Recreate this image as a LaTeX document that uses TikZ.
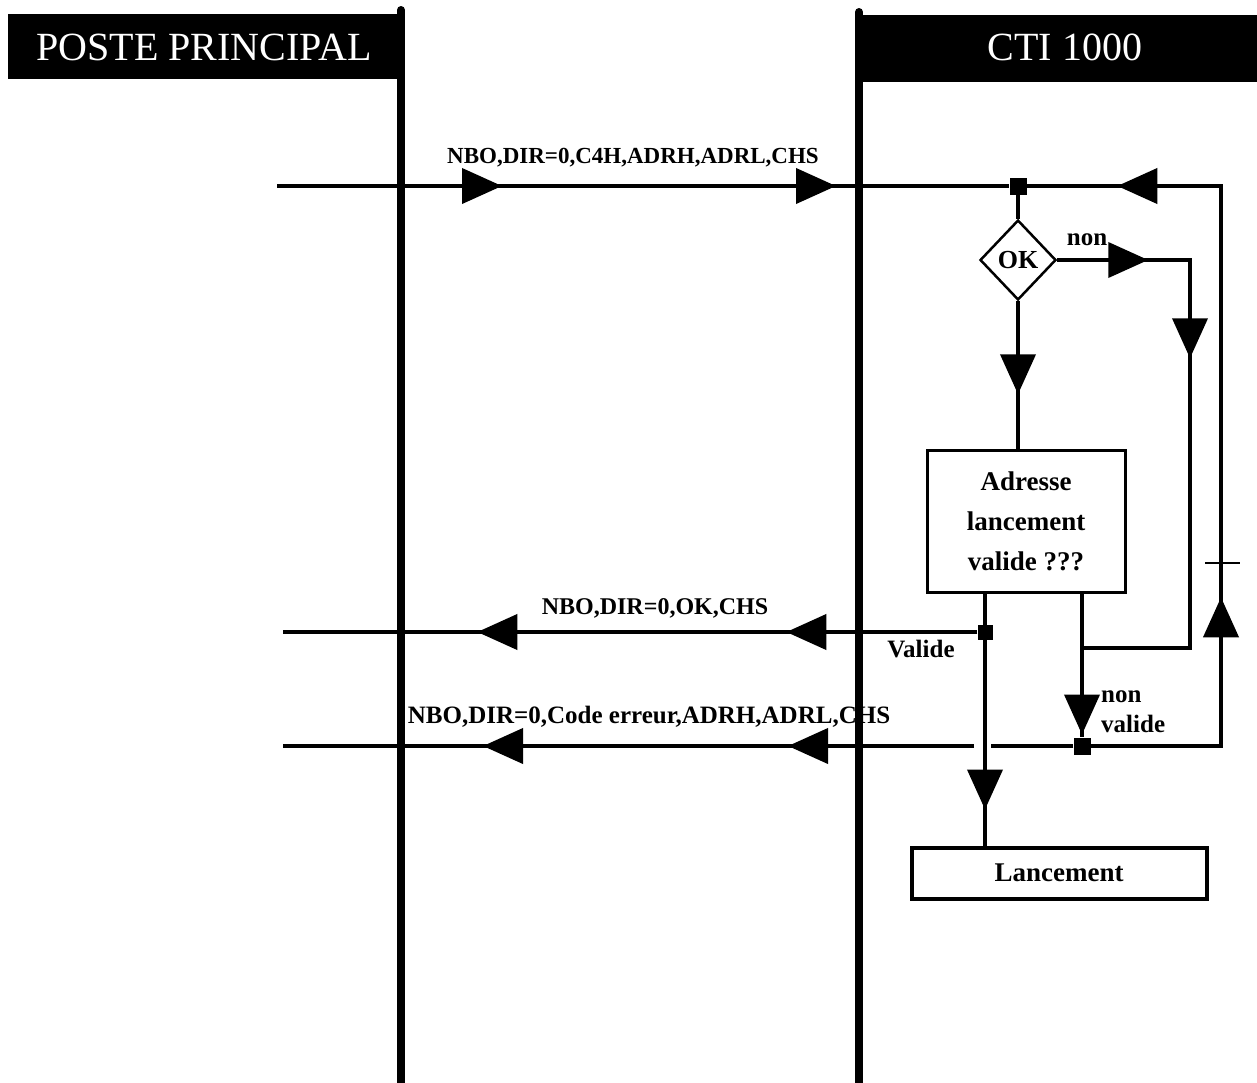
\documentclass[tikz,border=0pt]{standalone}
\usepackage{fontspec}
\setmainfont{Liberation Serif}
\usetikzlibrary{shapes.geometric,arrows.meta,decorations.markings}
\tikzset{
  lifeline/.style={line width=8pt,line cap=round},
  hdrbox/.style={fill=black,draw=none,inner sep=0pt},
  hdrtext/.style={text=white,font=\fontsize{40}{40}\selectfont,inner sep=0pt},
  msg/.style={line width=4pt},
  flow/.style={line width=4pt},
  lbl/.style={font=\fontsize{24}{24}\selectfont\bfseries,inner sep=0pt},
  boxtext/.style={font=\fontsize{27}{40}\selectfont\bfseries},
  junction/.style={fill=black,draw=none,minimum size=17pt,inner sep=0pt},
  tipat/.style={postaction={decorate,decoration={markings,
      mark=at position #1 with {\arrow{Triangle[length=40pt,width=35pt]}}}}},
}
\begin{document}
\begin{tikzpicture}[x=1pt,y=-1pt]
\useasboundingbox (0,0) rectangle (1257,1082);
\fill[white] (0,0) rectangle (1257,1082);

% headers
\node[hdrbox,minimum width=393pt,minimum height=65pt] (h1) at (204.5,46.5) {};
\node[hdrtext] (t1) at (204,47) {POSTE PRINCIPAL};
\node[hdrbox,minimum width=402pt,minimum height=67pt] (h2) at (1056,48) {};
\node[hdrtext] (t2) at (1065,47) {CTI 1000};

% lifelines
\coordinate (a1) at (401,10);
\coordinate (a2) at (401,1086);
\coordinate (b1) at (859,12);
\coordinate (b2) at (859,1086);
\draw[lifeline] (a1) -- (a2);
\draw[lifeline] (b1) -- (b2);

% junctions
\node[junction] (J1) at (1018,186) {};
\node[junction,minimum size=15pt] (J2) at (985,632) {};
\node[junction] (J4) at (1082,746) {};

% decision and boxes
\node[diamond,draw,line width=2.5pt,minimum width=76pt,minimum height=80pt,
      inner sep=0pt,font=\fontsize{26}{26}\selectfont\bfseries] (ok) at (1018,260) {OK};
\node[draw,line width=3pt,minimum width=198pt,minimum height=142pt,
      align=center,boxtext] (box) at (1026,521) {Adresse\\lancement\\valide ???};
\node[draw,line width=4pt,minimum width=295pt,minimum height=51pt,
      font=\fontsize{27}{27}\selectfont\bfseries] (lanc) at (1059,873) {Lancement};

% message 1
\coordinate (m1s) at (277,186);
\draw[msg,tipat=225pt,tipat=559pt] (m1s) -- (J1);

% return loop
\coordinate (c1) at (1221,746);
\coordinate (c2) at (1221,186);
\draw[flow,tipat=279pt,tipat=794pt] (J4) -- (c1) -- (c2) -- (J1);
\draw[line width=2.5pt] (1205,563) -- (1240,563);

% flow
\draw[flow] (J1) -- (ok.north);
\draw[flow,tipat=93pt] (ok.south) -- (ok.south |- box.north);
\coordinate (c3) at (1190,260);
\coordinate (c4) at (1190,648);
\coordinate (c5) at (1082,648);
\draw[flow,tipat=91pt,tipat=231pt] (ok.east) -- (c3) -- (c4) -- (c5);
\draw[flow,tipat=216pt] ([xshift=-41pt]box.south) -- ([xshift=-41pt]box.south |- lanc.north);
\draw[flow,tipat=141pt] ([xshift=56pt]box.south) -- (J4);

% message 2
\coordinate (m2e) at (283,632);
\draw[msg,tipat=191pt,tipat=500pt] (J2) -- (m2e);

% message 3
\coordinate (g1) at (991,746);
\coordinate (g2) at (974,746);
\coordinate (m3e) at (283,746);
\draw[msg] (J4) -- (g1);
\draw[msg,tipat=186pt,tipat=491pt] (g2) -- (m3e);

% labels
\node[lbl,font=\fontsize{23}{23}\selectfont\bfseries] (l1) at (633,158) {NBO,DIR=0,C4H,ADRH,ADRL,CHS};
\node[lbl] (l2) at (655,608) {NBO,DIR=0,OK,CHS};
\node[lbl,font=\fontsize{25}{25}\selectfont\bfseries] (l3) at (649,717) {NBO,DIR=0,Code erreur,ADRH,ADRL,CHS};
\node[lbl,font=\fontsize{25}{25}\selectfont\bfseries] (l4) at (921,649) {Valide};
\node[lbl,font=\fontsize{25}{25}\selectfont\bfseries] (l5) at (1087,240) {non};
\node[lbl,anchor=west,align=left,font=\fontsize{25}{30}\selectfont\bfseries] (l6) at (1101,712) {non\\valide};
\end{tikzpicture}
\end{document}
